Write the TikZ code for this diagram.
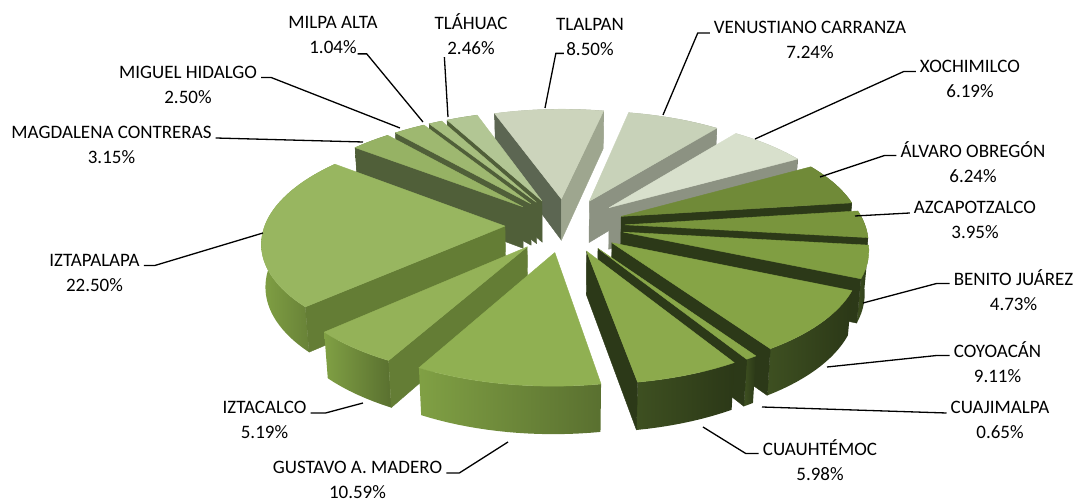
\documentclass[tikz,border=0pt]{standalone}
\usepackage{fontspec}
\setmainfont{Carlito}
% slice colours
\definecolor{alvaro}{RGB}{112,138,56}
\definecolor{azcapo}{RGB}{121,149,61}
\definecolor{benito}{RGB}{128,158,66}
\definecolor{coyoacan}{RGB}{134,164,70}
\definecolor{cuajim}{RGB}{137,167,73}
\definecolor{cuauh}{RGB}{140,170,76}
\definecolor{gustavo}{RGB}{144,176,82}
\definecolor{iztacalco}{RGB}{148,178,88}
\definecolor{iztapal}{RGB}{152,182,96}
\definecolor{magda}{RGB}{150,178,100}
\definecolor{miguel}{RGB}{158,184,112}
\definecolor{milpa}{RGB}{166,190,126}
\definecolor{tlahuac}{RGB}{178,198,148}
\definecolor{tlalpan}{RGB}{204,212,188}
\definecolor{venus}{RGB}{200,210,185}
\definecolor{xochi}{RGB}{216,224,204}
% wall colours
\definecolor{darkside}{RGB}{44,57,24}
\definecolor{darkrim}{RGB}{62,80,33}
\definecolor{oliveside}{RGB}{80,95,57}
\definecolor{leafrim}{RGB}{128,160,68}
\definecolor{leafside}{RGB}{100,125,53}
\definecolor{greyside}{RGB}{92,102,82}
\definecolor{greyrim}{RGB}{158,166,143}
\definecolor{greywall}{RGB}{140,146,130}
% view: scale, sin/cos of tilt, perspective, explosion, thickness
\def\Sc{240}
\def\Sph{0.45}
\def\Cph{0.893}
\def\Kp{0.148}
\def\Ex{0.25}
\def\Th{0.2}
\def\camY{-6.03}
\pgfmathdeclarefunction{PX}{3}{\pgfmathparse{\Sc*(#1)/(1+\Kp*((#2)*\Cph-(#3)*\Sph))}}
\pgfmathdeclarefunction{PY}{3}{\pgfmathparse{\Sc*((#2)*\Sph+(#3)*\Cph)/(1+\Kp*((#2)*\Cph-(#3)*\Sph))}}
% #1 start, #2 end (clockwise from north), #3 top, #4 rim, #5 start wall, #6 end wall
\newcommand\pieslice[6]{%
  \pgfmathsetmacro\mA{(#1+#2)/2}%
  \pgfmathsetmacro\eX{\Ex*sin(\mA)}%
  \pgfmathsetmacro\eY{\Ex*cos(\mA)}%
  \pgfmathtruncatemacro\Ns{max(4,(#2-#1)/2)}%
  \pgfmathtruncatemacro\vA{(cos(#1)*\eX+sin(#1)*(\camY-\eY))>0}%
  \pgfmathtruncatemacro\vB{(-cos(#2)*\eX-sin(#2)*(\camY-\eY))>0}%
  \coordinate (sT) at ({PX(\eX,\eY,0)},{PY(\eX,\eY,0)});
  \coordinate (sB) at ({PX(\eX,\eY,-\Th)},{PY(\eX,\eY,-\Th)});
  \coordinate (aT) at ({PX(\eX+sin(#1),\eY+cos(#1),0)},{PY(\eX+sin(#1),\eY+cos(#1),0)});
  \coordinate (aB) at ({PX(\eX+sin(#1),\eY+cos(#1),-\Th)},{PY(\eX+sin(#1),\eY+cos(#1),-\Th)});
  \coordinate (bT) at ({PX(\eX+sin(#2),\eY+cos(#2),0)},{PY(\eX+sin(#2),\eY+cos(#2),0)});
  \coordinate (bB) at ({PX(\eX+sin(#2),\eY+cos(#2),-\Th)},{PY(\eX+sin(#2),\eY+cos(#2),-\Th)});
  \shade[rim=#4] plot[domain=#1:#2,samples=\Ns] ({PX(\eX+sin(\x),\eY+cos(\x),0)},{PY(\eX+sin(\x),\eY+cos(\x),0)})
    -- plot[domain=#2:#1,samples=\Ns] ({PX(\eX+sin(\x),\eY+cos(\x),-\Th)},{PY(\eX+sin(\x),\eY+cos(\x),-\Th)}) -- cycle;
  \ifnum\vA=1 \fill[face=#5] (sT) -- (aT) -- (aB) -- (sB) -- cycle;\fi
  \ifnum\vB=1 \fill[face=#6] (sT) -- (bT) -- (bB) -- (sB) -- cycle;\fi
  \fill[face=#3] (sT) -- plot[domain=#1:#2,samples=\Ns] ({PX(\eX+sin(\x),\eY+cos(\x),0)},{PY(\eX+sin(\x),\eY+cos(\x),0)}) -- cycle;
}
\tikzset{
  face/.style={fill=#1, draw=#1, line width=0.4pt, line join=round},
  rim/.style={left color=#1, right color=#1!70!black},
  lbl/.style={align=center, inner sep=0pt, font=\fontsize{19}{25}\selectfont},
  leader/.style={draw, line width=1.3pt}
}

\begin{document}
\begin{tikzpicture}[x=1pt,y=1pt]
\useasboundingbox (-565,-277) rectangle (514,225);
% slices, back to front
\pieslice{341.1}{371.7}{tlalpan}{greyrim}{greyside}{greyrim}
\pieslice{332.3}{341.1}{tlahuac}{oliveside}{oliveside}{oliveside}
\pieslice{11.7}{37.8}{venus}{greywall}{greywall}{greywall}
\pieslice{328.5}{332.3}{milpa}{oliveside}{oliveside}{oliveside}
\pieslice{319.5}{328.5}{miguel}{oliveside}{oliveside}{oliveside}
\pieslice{308.2}{319.5}{magda}{oliveside}{oliveside}{oliveside}
\pieslice{37.8}{60}{xochi}{greywall}{greywall}{greywall}
\pieslice{60}{82.5}{alvaro}{darkrim}{darkside}{darkside}
\pieslice{82.5}{96.7}{azcapo}{darkrim}{darkside}{darkside}
\pieslice{227.2}{308.2}{iztapal}{leafrim}{leafside}{leafside}
\pieslice{96.7}{113.7}{benito}{darkrim}{darkside}{darkside}
\pieslice{113.7}{146.5}{coyoacan}{darkrim}{darkside}{darkside}
\pieslice{208.5}{227.2}{iztacalco}{leafrim}{leafside}{leafside}
\pieslice{146.5}{148.9}{cuajim}{darkrim}{darkside}{darkside}
\pieslice{148.9}{170.4}{cuauh}{darkrim}{darkside}{darkside}
\pieslice{170.4}{208.5}{gustavo}{leafrim}{leafside}{leafside}

% labels
\node[lbl] (lMilpa) at (-232,190) {MILPA ALTA\\1.04\%};
\node[lbl] (lTlahuac) at (-94,190.5) {TLÁHUAC\\2.46\%};
\node[lbl] (lMiguel) at (-377,140.5) {MIGUEL HIDALGO\\2.50\%};
\node[lbl] (lMagda) at (-453.5,80) {MAGDALENA CONTRERAS\\3.15\%};
\node[lbl] (lTlalpan) at (25,188.5) {TLALPAN\\8.50\%};
\node[lbl] (lVenus) at (245,185) {VENUSTIANO CARRANZA\\7.24\%};
\node[lbl] (lXochi) at (405,146.5) {XOCHIMILCO\\6.19\%};
\node[lbl] (lAlvaro) at (408,62.5) {ÁLVARO OBREGÓN\\6.24\%};
\node[lbl] (lAzcapo) at (410,5) {AZCAPOTZALCO\\3.95\%};
\node[lbl] (lBenito) at (448.5,-65.5) {BENITO JUÁREZ\\4.73\%};
\node[lbl] (lCoyoacan) at (432.5,-137.5) {COYOACÁN\\9.11\%};
\node[lbl] (lCuajim) at (435,-195) {CUAJIMALPA\\0.65\%};
\node[lbl] (lCuauh) at (255,-235.5) {CUAUHTÉMOC\\5.98\%};
\node[lbl] (lGustavo) at (-207.5,-255) {GUSTAVO A. MADERO\\10.59\%};
\node[lbl] (lIztacalco) at (-300.5,-195) {IZTACALCO\\5.19\%};
\node[lbl] (lIztapal) at (-470.5,-47.5) {IZTAPALAPA\\22.50\%};

% leader ends on the slices
\coordinate (pMilpa) at (-142,103);
\coordinate (pTlahuac) at (-117,108);
\coordinate (pMiguel) at (-165,97);
\coordinate (pMagda) at (-202,83);
\coordinate (pTlalpan) at (-20,117);
\coordinate (pVenus) at (98,110);
\coordinate (pXochi) at (190,86);
\coordinate (pAlvaro) at (255,48);
\coordinate (pAzcapo) at (290,9);
\coordinate (pBenito) at (298,-78);
\coordinate (pCoyoacan) at (262,-142);
\coordinate (pCuajim) at (197,-182);
\coordinate (pCuauh) at (138,-202);
\coordinate (pGustavo) at (-57,-217);
\coordinate (pIztacalco) at (-202,-178);
\coordinate (pIztapal) at (-302,-8);

\draw[leader] (lMilpa.south east) ++(-20,0) -- ++(9,0) -- (pMilpa);
\draw[leader] (lTlahuac.south west) ++(10,-2) -- (pTlahuac);
\draw[leader] (lMiguel.east) ++(4,7) -- ++(10,0) -- (pMiguel);
\draw[leader] (lMagda.east) ++(4,7) -- (pMagda);
\draw[leader] (lTlalpan.south west) ++(8,2) -- ++(-8,0) -- (pTlalpan);
\draw[leader] (lVenus.west) ++(-4,7) -- ++(-12,0) -- (pVenus);
\draw[leader] (lXochi.west) ++(-4,7) -- ++(-12,0) -- (pXochi);
\draw[leader] (lAlvaro.west) ++(-4,7) -- ++(-12,0) -- (pAlvaro);
\draw[leader] (lAzcapo.west) ++(-4,7) -- (pAzcapo);
\draw[leader] (lBenito.west) ++(-4,7) -- ++(-13,0) -- (pBenito);
\draw[leader] (lCoyoacan.west) ++(-4,7) -- ++(-13,0) -- (pCoyoacan);
\draw[leader] (lCuajim.west) ++(-4,7) -- (pCuajim);
\draw[leader] (lCuauh.west) ++(-4,7) -- ++(-13,0) -- (pCuauh);
\draw[leader] (lGustavo.east) ++(4,7) -- ++(13,0) -- (pGustavo);
\draw[leader] (lIztacalco.east) ++(4,7) -- ++(15,0) -- (pIztacalco);
\draw[leader] (lIztapal.east) ++(4,7) -- ++(11,0) -- (pIztapal);
\end{tikzpicture}
\end{document}
